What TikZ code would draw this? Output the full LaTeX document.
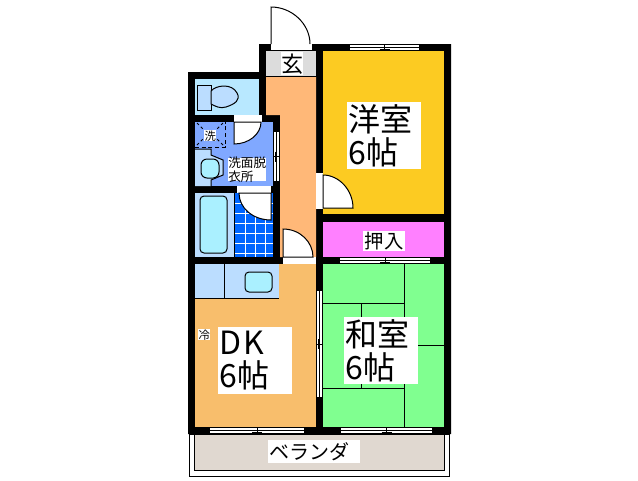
\documentclass[tikz,border=0pt]{standalone}
\usepackage{fontspec}
\setmainfont{Noto Sans CJK JP}
\definecolor{toiletc}{HTML}{B8E8FF}
\definecolor{washc}{HTML}{80A8FF}
\definecolor{fixc}{HTML}{BBDDFF}
\definecolor{basinc}{HTML}{AAF0FF}
\definecolor{hallc}{HTML}{FFB878}
\definecolor{dkc}{HTML}{F8BE6C}
\definecolor{westc}{HTML}{FCCB22}
\definecolor{closetc}{HTML}{FF80FF}
\definecolor{japc}{HTML}{80FF90}
\definecolor{verc}{HTML}{E0D8D0}
\definecolor{genc}{HTML}{DCDCDC}
\definecolor{tilec}{HTML}{0066FF}
\tikzset{
  thin line/.style={draw=black,line width=0.75pt},
  room/.style={draw=none},
  lab/.style={fill=white,inner sep=0pt,align=left,anchor=north west},
  fan/.style={fill=white,draw=black,line width=0.75pt},
  fixture/.style={fill=fixc,draw=black,line width=0.75pt},
  basin/.style={fill=basinc,draw=black,line width=0.75pt,rounded corners=3pt},
}
\newcommand{\hwin}[3]{% x1 x2 y
  \fill[white] (#1,#3+1) rectangle (#2,#3+6);
  \draw[thin line] (#1,#3+3.5) -- (#2,#3+3.5);
  \draw[thin line] ({(#1+#2)/2},#3+1) -- ({(#1+#2)/2},#3+6);
  \draw[thin line] ({(#1+#2)/2-5},#3+5) -- ({(#1+#2)/2+5},#3+5);
}
\newcommand{\vwin}[3]{% y1 y2 x
  \fill[white] (#3+1,#1) rectangle (#3+6,#2);
  \draw[thin line] (#3+3.5,#1) -- (#3+3.5,#2);
  \draw[thin line] (#3+1,{(#1+#2)/2}) -- (#3+6,{(#1+#2)/2});
  \draw[thin line] (#3+2.5,{(#1+#2)/2-5}) -- (#3+2.5,{(#1+#2)/2+5});
}
\begin{document}
\begin{tikzpicture}[x=0.75pt,y=-0.75pt]
\useasboundingbox (0,0) rectangle (638,480);
\fill[white] (0,0) rectangle (638,480);
% veranda
\draw[thin line,fill=white] (189,434) rectangle (449,476);
\draw[thin line,fill=verc] (194,434) rectangle (444,470);
% walls
\fill[black] (188,72) -- (259,72) -- (259,44) -- (451,44) -- (451,434) -- (188,434) -- cycle;
% rooms
\fill[genc] (266,51) rectangle (316,76);
\fill[hallc] (266,77) -- (316,77) -- (316,257) -- (280,257) -- (280,115) -- (266,115) -- cycle;
\draw[thin line] (266,76.5) -- (316,76.5);
\fill[toiletc] (195,79) rectangle (259,115);
\fill[washc] (195,122) rectangle (273,186);
\fill[fixc] (195,193) rectangle (234,257);
\fill[tilec] (235,193) rectangle (273,257);
\foreach \gx in {245,255,265} \draw[white,line width=0.75pt] (\gx,193) -- (\gx,257);
\foreach \gy in {203,213,223,233,243,253} \draw[white,line width=0.75pt] (235,\gy) -- (273,\gy);
\fill[dkc] (195,264) rectangle (316,427);
\fill[westc] (323,51) rectangle (444,214);
\fill[closetc] (323,222) rectangle (444,257);
\fill[japc] (323,264) rectangle (444,427);
% tatami
\draw[thin line] (404,264) -- (404,427);
\draw[thin line] (323,303) -- (404,303);
\draw[thin line] (323,388) -- (404,388);
\draw[thin line] (361,303) -- (361,388);
\draw[thin line] (404,345) -- (444,345);
% toilet
\draw[fixture] (197,85) rectangle (211,110);
\draw[fixture] (211,91) .. controls (216,85) and (232,83) .. (237,93) .. controls (241,100) and (235,104) .. (226,107) .. controls (220,109) and (215,106) .. (211,104) -- cycle;
% wash area
\fill[fixc] (195,149) -- (211,149) -- (211,155) -- (223,160) -- (223,175) -- (211,180) -- (211,186) -- (195,186) -- cycle;
\draw[thin line] (195,149) -- (211,149) -- (211,155) -- (223,160) -- (223,175) -- (211,180) -- (211,186);
\draw[basin,rounded corners=4.5pt] (201,159) rectangle (219,178);
\draw[thin line,dashed,dash pattern=on 3pt off 2pt] (195,147) -- (225,147) -- (225,122);
\draw[thin line,dash pattern=on 2pt off 2pt] (197,123) -- (203,129) (223,123) -- (217,129) (197,145) -- (203,139) (223,145) -- (217,139);
% bath
\draw[thin line] (234,193) -- (234,257);
\draw[basin] (200,196) rectangle (227,253);
% kitchen
\fill[fixc] (195,264) rectangle (279,298);
\draw[thin line] (195,298) -- (279,298);
\draw[thin line] (224,264) -- (224,298);
\draw[basin] (245,272) rectangle (272,292);
% door openings
\fill[white] (271,44) rectangle (312,51);
\draw[thin line] (271,50.5) -- (312,50.5);
\draw[fan] (271,44) -- (271,7) .. controls (292,7) and (310,24) .. (310,44);
\fill[white] (234,115) rectangle (262,122);
\draw[fan] (234,122) -- (234,144) .. controls (249,144) and (261,134) .. (261,122) -- cycle;
\fill[white] (237,186) rectangle (271,193);
\draw[fan] (271,193) -- (271,220) .. controls (253,220) and (239,208) .. (239,193) -- cycle;
\fill[white] (316,173) rectangle (323,209);
\draw[fan] (323,208) -- (353,208) .. controls (353,190) and (339,175) .. (323,175) -- cycle;
\fill[white] (283,257) rectangle (316,264);
\draw[fan] (283,257) -- (283,229) .. controls (300,229) and (313,242) .. (313,257) -- cycle;
% windows and sliding doors
\hwin{350}{419}{44}
\hwin{340}{430}{257}
\hwin{210}{304}{427}
\hwin{341}{432}{427}
\vwin{291}{397}{316}
\vwin{132}{181}{273}
% labels
\node[lab,minimum width=22pt*0.75,minimum height=23pt*0.75] (genkan) at (281,52) {};
\node[inner sep=0pt,font=\fontsize{16.5}{16.5}\selectfont] (genkant) at (genkan.center) {玄};
\node[lab,minimum width=74pt*0.75,minimum height=67pt*0.75] (west) at (347,102) {};
\node[inner sep=0pt,align=left,font=\fontsize{24}{25}\selectfont,anchor=west] (westt) at (348,135.5) {洋室\\6帖};
\node[lab,minimum width=42pt*0.75,minimum height=20pt*0.75] (closet) at (363,231) {};
\node[inner sep=0pt,font=\fontsize{14.5}{14.5}\selectfont] (closett) at (closet.center) {押入};
\node[lab,minimum width=74pt*0.75,minimum height=67pt*0.75] (jap) at (344,317) {};
\node[inner sep=0pt,align=left,font=\fontsize{24}{25}\selectfont,anchor=west] (japt) at (345,350.5) {和室\\6帖};
\node[lab,minimum width=74pt*0.75,minimum height=67pt*0.75] (dk) at (218,327) {};
\node[inner sep=0pt,align=left,font=\fontsize{24}{25}\selectfont,anchor=west] (dkt) at (219,360.5) {D\kern2pt K\\6帖};
\node[lab,minimum width=12pt*0.75,minimum height=11pt*0.75] (rei) at (198,329) {};
\node[inner sep=0pt,font=\fontsize{8.5}{8.5}\selectfont] (reit) at (rei.center) {冷};
\node[lab,minimum width=12pt*0.75,minimum height=11pt*0.75] (sen) at (204,130) {};
\node[inner sep=0pt,font=\fontsize{8.5}{8.5}\selectfont] (sent) at (sen.center) {洗};
\node[lab,minimum width=38pt*0.75,minimum height=23pt*0.75] (datsu) at (228,158) {};
\node[inner sep=0pt,align=left,font=\fontsize{9.5}{10.5}\selectfont,anchor=west] (datsut) at (228,169.5) {洗面脱\\衣所};
\node[lab,minimum width=92pt*0.75,minimum height=23pt*0.75] (ver) at (268,440) {};
\node[inner sep=0pt,font=\fontsize{15}{15}\selectfont,anchor=west] (vert) at (269,451.5) {ベランダ};
\end{tikzpicture}
\end{document}
